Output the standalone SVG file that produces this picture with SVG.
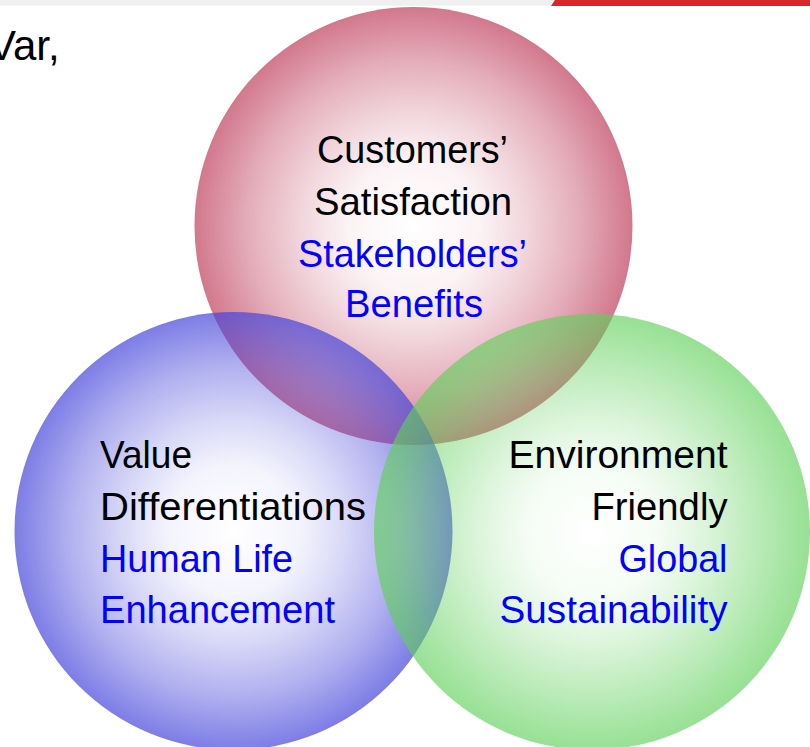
<svg xmlns="http://www.w3.org/2000/svg" width="810" height="747" viewBox="0 0 810 747">
  <defs>
    <radialGradient id="gRed" cx="0.5" cy="0.5" r="0.5">
      <stop offset="0" stop-color="#bf3e5b" stop-opacity="0"/>
      <stop offset="0.3" stop-color="#bf3e5b" stop-opacity="0.06"/>
      <stop offset="0.5" stop-color="#bf3e5b" stop-opacity="0.2"/>
      <stop offset="0.75" stop-color="#bf3e5b" stop-opacity="0.42"/>
      <stop offset="1" stop-color="#bf3e5b" stop-opacity="0.7"/>
    </radialGradient>
    <radialGradient id="gBlue" cx="0.5" cy="0.5" r="0.5">
      <stop offset="0" stop-color="#4545db" stop-opacity="0"/>
      <stop offset="0.3" stop-color="#4545db" stop-opacity="0.06"/>
      <stop offset="0.5" stop-color="#4545db" stop-opacity="0.2"/>
      <stop offset="0.75" stop-color="#4545db" stop-opacity="0.42"/>
      <stop offset="1" stop-color="#4545db" stop-opacity="0.7"/>
    </radialGradient>
    <radialGradient id="gGreen" cx="0.5" cy="0.5" r="0.5">
      <stop offset="0" stop-color="#5fd05a" stop-opacity="0"/>
      <stop offset="0.3" stop-color="#5fd05a" stop-opacity="0.06"/>
      <stop offset="0.5" stop-color="#5fd05a" stop-opacity="0.2"/>
      <stop offset="0.75" stop-color="#5fd05a" stop-opacity="0.42"/>
      <stop offset="1" stop-color="#5fd05a" stop-opacity="0.65"/>
    </radialGradient>
  </defs>
  <style>
    .t { font-family: "Liberation Sans", Arial, sans-serif; font-size: 38.5px; }
    .k { fill: #000000; }
    .b { fill: #0000ff; }
    .mid { text-anchor: middle; }
    .end { text-anchor: end; }
  </style>
  <rect x="0" y="0" width="810" height="747" fill="#ffffff"/>
  <rect x="0" y="0" width="810" height="5.7" fill="#eff0ef"/>
  <polygon points="555,0 810,0 810,6 551,6" fill="#d9262a"/>
  <text x="-12" y="60" style="font-family: 'Liberation Sans', Arial, sans-serif; font-size: 42px;" fill="#000000">Var,</text>

  <g id="customers">
    <circle cx="413.5" cy="226" r="219" fill="url(#gRed)"/>
  </g>
  <g id="value">
    <circle cx="233.5" cy="531" r="219" fill="url(#gBlue)"/>
  </g>
  <g id="environment">
    <circle cx="592" cy="532" r="218" fill="url(#gGreen)"/>
  </g>
  <g id="connectors"></g>

  <g id="customers-label" class="t mid">
    <text x="412.5" y="163" class="k" textLength="191" lengthAdjust="spacingAndGlyphs">Customers’</text>
    <text x="413" y="214.5" class="k" textLength="198" lengthAdjust="spacingAndGlyphs">Satisfaction</text>
    <text x="412.5" y="266.5" class="b" textLength="229" lengthAdjust="spacingAndGlyphs">Stakeholders’</text>
    <text x="414" y="317" class="b" textLength="138" lengthAdjust="spacingAndGlyphs">Benefits</text>
  </g>
  <g id="value-label" class="t">
    <text x="100" y="468" class="k" textLength="92" lengthAdjust="spacingAndGlyphs">Value</text>
    <text x="100" y="520" class="k" textLength="266" lengthAdjust="spacingAndGlyphs">Differentiations</text>
    <text x="100" y="571.5" class="b" textLength="193" lengthAdjust="spacingAndGlyphs">Human Life</text>
    <text x="100" y="623" class="b" textLength="235" lengthAdjust="spacingAndGlyphs">Enhancement</text>
  </g>
  <g id="environment-label" class="t end">
    <text x="727.5" y="468" class="k" textLength="219" lengthAdjust="spacingAndGlyphs">Environment</text>
    <text x="727.5" y="520" class="k" textLength="136" lengthAdjust="spacingAndGlyphs">Friendly</text>
    <text x="727.5" y="571.5" class="b" textLength="109" lengthAdjust="spacingAndGlyphs">Global</text>
    <text x="727.5" y="623" class="b" textLength="228" lengthAdjust="spacingAndGlyphs">Sustainability</text>
  </g>
</svg>
